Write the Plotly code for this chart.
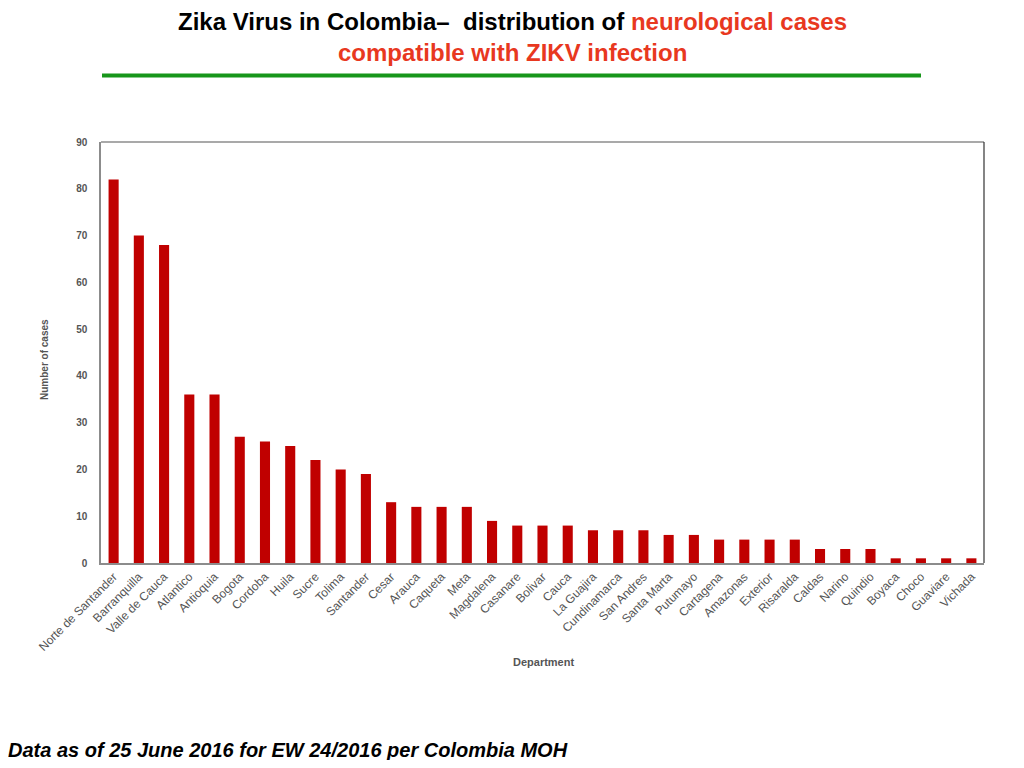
import plotly.graph_objects as go

departments = ["Norte de Santander", "Barranquilla", "Valle de Cauca", "Atlantico", "Antioquia",
               "Bogota", "Cordoba", "Huila", "Sucre", "Tolima", "Santander", "Cesar", "Arauca",
               "Caqueta", "Meta", "Magdalena", "Casanare", "Bolivar", "Cauca", "La Guajira",
               "Cundinamarca", "San Andres", "Santa Marta", "Putumayo", "Cartagena", "Amazonas",
               "Exterior", "Risaralda", "Caldas", "Narino", "Quindio", "Boyaca", "Choco",
               "Guaviare", "Vichada"]
cases = [82, 70, 68, 36, 36, 27, 26, 25, 22, 20, 19, 13, 12, 12, 12, 9, 8, 8, 8, 7, 7, 7,
         6, 6, 5, 5, 5, 5, 3, 3, 3, 1, 1, 1, 1]
y_ticks = [0, 10, 20, 30, 40, 50, 60, 70, 80, 90]

OFF = 8  # page body margin
W, H = 1000, 752
L, R, T, B = 101 - OFF, 984 - OFF, 142 - OFF, 563 - OFF

def px(x):
    return (x - OFF - L) / (R - L)

def py(y):
    return (B - (y - OFF)) / (B - T)

fig = go.Figure(go.Bar(
    x=departments, y=cases,
    marker=dict(color="#C00000", line=dict(width=0)),
    hoverinfo="x+y",
))

gray = "#555555"
fig.update_layout(
    width=W, height=H, autosize=False,
    margin=dict(l=L, r=W - R, t=T, b=H - B, pad=0),
    paper_bgcolor="white", plot_bgcolor="white",
    bargap=0.6, showlegend=False,
    font=dict(family="Liberation Sans, Arial, sans-serif", color=gray),
    xaxis=dict(
        tickangle=-45, tickfont=dict(size=12, color=gray),
        showline=True, linecolor="#8c8c8c", linewidth=2, mirror=False,
        showgrid=False, ticks="", zeroline=False,
    ),
    yaxis=dict(
        range=[0, 90], tickvals=y_ticks, ticktext=[f"<b>{v}</b>" for v in y_ticks],
        tickfont=dict(size=10, color=gray),
        showline=True, linecolor="#8c8c8c", linewidth=1.5, mirror=False,
        showgrid=False, ticks="", zeroline=False, ticklabelstandoff=10,
    ),
    shapes=[
        dict(type="line", xref="paper", yref="paper", x0=px(101), x1=px(984), y0=py(142), y1=py(142),
             line=dict(color="#8c8c8c", width=1.5)),
        dict(type="line", xref="paper", yref="paper", x0=px(984), x1=px(984), y0=py(142), y1=py(563),
             line=dict(color="#333333", width=1.2)),
        dict(type="line", xref="paper", yref="paper", x0=px(102), x1=px(921), y0=py(75.5), y1=py(75.5),
             line=dict(color="#17961A", width=4)),
    ],
    annotations=[
        dict(text="<b>Zika Virus in Colombia–  distribution of <span style='color:#E8381F'>neurological cases</span></b>",
             xref="paper", yref="paper", x=px(512), y=py(22), xanchor="center", yanchor="middle",
             showarrow=False, font=dict(size=24, color="#000000", family="Liberation Sans, Arial, sans-serif")),
        dict(text="<b>compatible with ZIKV infection</b>",
             xref="paper", yref="paper", x=px(512), y=py(53), xanchor="center", yanchor="middle",
             showarrow=False, font=dict(size=24, color="#E8381F", family="Liberation Sans, Arial, sans-serif")),
        dict(text="<b>Number of cases</b>", textangle=-90,
             xref="paper", yref="paper", x=px(44), y=py(360), xanchor="center", yanchor="middle",
             showarrow=False, font=dict(size=10, color=gray)),
        dict(text="<b>Department</b>",
             xref="paper", yref="paper", x=px(543), y=py(662), xanchor="center", yanchor="middle",
             showarrow=False, font=dict(size=11, color=gray)),
        dict(text="<b><i>Data as of 25 June 2016 for EW 24/2016 per Colombia MOH</i></b>",
             xref="paper", yref="paper", x=px(6), y=py(750), xanchor="left", yanchor="middle",
             showarrow=False, font=dict(size=20, color="#000000", family="Liberation Sans, Arial, sans-serif")),
    ],
)

fig.write_html("out.html", include_plotlyjs=True, config={"displayModeBar": False})
